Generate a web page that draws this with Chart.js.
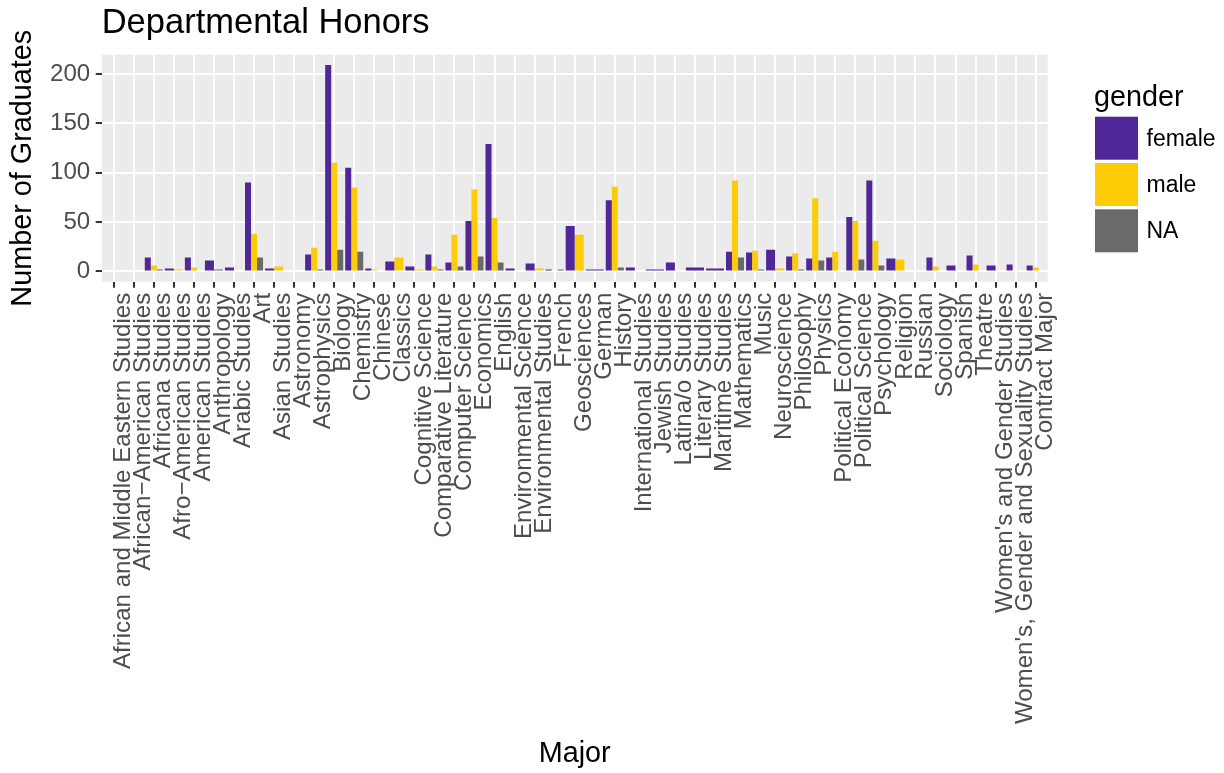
<!DOCTYPE html>
<html>
<head>
<meta charset="utf-8">
<script src="https://cdn.jsdelivr.net/npm/chart.js@4.4.1/dist/chart.umd.min.js"></script>
<style>
html,body{margin:0;padding:0;background:#ffffff;}
#wrap{width:1224px;height:773px;position:relative;}
</style>
</head>
<body>
<div id="wrap"><canvas id="c"></canvas></div>
<script>
// ---- data ----
const majors = [
  "African and Middle Eastern Studies", "African\u2212American Studies", "Africana Studies",
  "Afro\u2212American Studies", "American Studies", "Anthropology", "Arabic Studies", "Art",
  "Asian Studies", "Astronomy", "Astrophysics", "Biology", "Chemistry", "Chinese", "Classics",
  "Cognitive Science", "Comparative Literature", "Computer Science", "Economics", "English",
  "Environmental Science", "Environmental Studies", "French", "Geosciences", "German", "History",
  "International Studies", "Jewish Studies", "Latina/o Studies", "Literary Studies",
  "Maritime Studies", "Mathematics", "Music", "Neuroscience", "Philosophy", "Physics",
  "Political Economy", "Political Science", "Psychology", "Religion", "Russian", "Sociology",
  "Spanish", "Theatre", "Women's and Gender Studies", "Women's, Gender and Sexuality Studies",
  "Contract Major"
];
const female = [1, 1, 14, 3, 14, 11, 4, 90, 3, 1, 17, 209, 105, 3, 10, 5, 17, 9, 51, 129,
  3, 8, 2, 46, 2, 72, 4, 2, 9, 4, 3, 20, 19, 22, 15, 13, 14, 55, 92, 13, 1, 14, 6, 16, 6, 7, 6];
const male = [1, 1, 6, 2, 4, null, 1, 38, 5, null, 24, 110, 85, 2, 14, 2, 5, 37, 83, 54,
  1, 3, 1, 37, null, 86, 1, null, 1, null, null, 92, 21, 3, 18, 74, 20, 51, 31, 12, 1, 5, 1, 7, 1, 1, 4];
const genderNA = [null, null, 2, null, 1, 2, null, 14, null, null, 2, 22, 20, 1, null, null, 2, 5, 15, 9,
  null, null, 2, null, null, 4, null, null, null, null, null, 14, 2, null, 2, 11, 1, 12, 6, null, 1, 1, null, 1, null, 1, 1];
const seriesNames = ["female", "male", "NA"];
const seriesColors = ["#512698", "#FDCC06", "#6A6A6A"];
const yTicks = [0, 25, 50, 75, 100, 125, 150, 175, 200];
const yMajorStep = 50;

// ---- style ----
const FONT = "'Liberation Sans', Arial, Helvetica, sans-serif";
Chart.defaults.font.family = FONT;
const PANEL = {left: 101.7, right: 1047.7, top: 54.7, bottom: 281.7};
const CANVAS_W = 1224, CANVAS_H = 773;
const TICK_FONT = 24.1;

const panelBg = {
  id: 'panelBg',
  beforeDraw(chart) {
    const {ctx, chartArea: a} = chart;
    ctx.save();
    ctx.fillStyle = '#EBEBEB';
    ctx.fillRect(a.left, a.top, a.right - a.left, a.bottom - a.top);
    ctx.restore();
  }
};

// ggplot-like discrete expansion (0.6 category on each side)
const ggExpand = {
  id: 'ggExpand',
  afterLayout(chart) {
    const s = chart.scales.x;
    const n = s.getLabels().length;
    s._startValue = -0.6;
    s._valueRange = n - 1 + 1.2;
  }
};

const ggLegend = {
  id: 'ggLegend',
  afterDraw(chart) {
    const {ctx, chartArea: a} = chart;
    const x0 = a.right + 47.3;
    const keyTop0 = 116.7, step = 46.3, key = 43;
    ctx.save();
    ctx.fillStyle = '#000000';
    ctx.font = `28.8px ${FONT}`;
    ctx.textAlign = 'left';
    ctx.textBaseline = 'alphabetic';
    ctx.fillText('gender', x0 - 1, 106);
    ctx.font = `23px ${FONT}`;
    ctx.textBaseline = 'middle';
    chart.data.datasets.forEach((ds, i) => {
      const y = keyTop0 + i * step;
      ctx.fillStyle = ds.backgroundColor;
      ctx.fillRect(x0, y, key, key);
      ctx.fillStyle = '#000000';
      ctx.fillText(ds.label, x0 + key + 8.5, y + key / 2 + 1);
    });
    ctx.restore();
  }
};

const datasets = [female, male, genderNA].map((arr, i) => ({
  label: seriesNames[i],
  data: arr,
  backgroundColor: seriesColors[i],
  borderWidth: 0,
  skipNull: true,
  categoryPercentage: 0.9,
  barPercentage: 1.0
}));

new Chart(document.getElementById('c'), {
  type: 'bar',
  data: {labels: majors, datasets},
  plugins: [panelBg, ggExpand, ggLegend],
  options: {
    responsive: true,
    maintainAspectRatio: false,
    animation: false,
    events: [],
    layout: {padding: {left: 0, right: CANVAS_W - PANEL.right, top: 0, bottom: 0}},
    plugins: {
      legend: {display: false},
      tooltip: {enabled: false},
      title: {
        display: true,
        text: 'Departmental Honors',
        align: 'start',
        fullSize: false,
        color: '#000000',
        font: {size: 34.5, weight: 'normal', family: FONT, lineHeight: 1.2},
        padding: {top: 3, bottom: PANEL.top - 34.5 * 1.2 - 3}
      }
    },
    scales: {
      x: {
        type: 'category',
        offset: true,
        border: {display: false},
        grid: {
          offset: false,
          color: '#FFFFFF',
          lineWidth: 2,
          drawTicks: true,
          tickLength: 6,
          tickColor: '#333333',
          tickWidth: 2
        },
        ticks: {
          autoSkip: false,
          maxRotation: 90,
          minRotation: 90,
          padding: 5,
          labelOffset: 9.5,
          color: '#4D4D4D',
          font: {size: TICK_FONT, family: FONT}
        },
        title: {
          display: true,
          text: 'Major',
          color: '#000000',
          font: {size: 28.8, family: FONT, lineHeight: 1.2},
          padding: {top: 0, bottom: 1.5}
        },
        afterFit(s) { s.height = CANVAS_H - PANEL.bottom; }
      },
      y: {
        type: 'linear',
        min: -10.45,
        max: 219.45,
        border: {display: false},
        afterBuildTicks(s) { s.ticks = yTicks.map(v => ({value: v})); },
        grid: {
          color: '#FFFFFF',
          lineWidth: (c) => (c.tick && c.tick.value % yMajorStep === 0) ? 2 : 1,
          drawTicks: true,
          tickLength: 6,
          tickWidth: (c) => (c.tick && c.tick.value % yMajorStep === 0) ? 2 : 0,
          tickColor: (c) => (c.tick && c.tick.value % yMajorStep === 0) ? '#333333' : 'rgba(0,0,0,0)'
        },
        ticks: {
          padding: 5.5,
          color: '#4D4D4D',
          font: {size: TICK_FONT, family: FONT},
          callback: (v) => (v % yMajorStep === 0 ? String(v) : '')
        },
        title: {
          display: true,
          text: 'Number of Graduates',
          color: '#000000',
          font: {size: 28.8, family: FONT, lineHeight: 1.2},
          padding: {top: 5.7, bottom: 0}
        },
        afterFit(s) { s.width = PANEL.left; }
      }
    }
  }
});
</script>
</body>
</html>
